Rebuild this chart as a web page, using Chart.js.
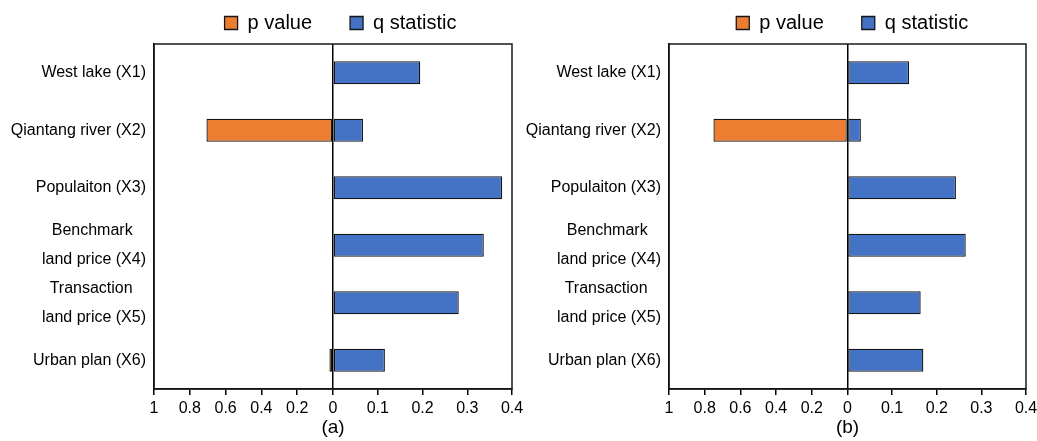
<!DOCTYPE html>
<html><head><meta charset="utf-8">
<script src="https://cdn.jsdelivr.net/npm/chart.js@4/dist/chart.umd.min.js"></script>
<style>
html,body{margin:0;padding:0;background:#fff;}
#wrap{position:relative;width:1037px;height:441px;overflow:hidden;background:#fff;}
.panel{position:absolute;top:0;height:441px;}
#pa{left:0;width:540px;}
#pb{left:520px;width:517px;}
</style></head><body>
<div id="wrap"><div class="panel" id="pa"><canvas id="ca"></canvas></div><div class="panel" id="pb"><canvas id="cb"></canvas></div></div>
<script>
const categories = ['West lake (X1)', 'Qiantang river (X2)', 'Populaiton (X3)', ['Benchmark   ', 'land price (X4)'], ['Transaction   ', 'land price (X5)'], 'Urban plan (X6)'];
const seriesNames = ['p value', 'q statistic'];
const pValuesA = [0, 0.707, 0, 0, 0, 0.02];
const qValuesA = [0.195, 0.067, 0.378, 0.337, 0.281, 0.116];
const pValuesB = [0, 0.751, 0, 0, 0, 0];
const qValuesB = [0.138, 0.030, 0.243, 0.265, 0.164, 0.170];
const pTickLabels = [1, 0.8, 0.6, 0.4, 0.2, 0];
const qTickLabels = [0.1, 0.2, 0.3, 0.4];
const panelTitles = ['(a)', '(b)'];

const SCALE = pTickLabels[0] / qTickLabels[qTickLabels.length - 1];
Chart.defaults.font.family = "'Liberation Sans', Arial, sans-serif";
Chart.defaults.color = '#000';

const framePlugin = {
  id: 'frame',
  afterLayout(chart, args, opts) {
    const lg = chart.legend, ca = chart.chartArea;
    if (lg) {
      const c = (ca.left + ca.right) / 2 + (opts.legendShift || 0);
      const half = (lg.right - lg.left) / 2;
      lg.left = c - half; lg.right = c + half;
      const pad = lg.options.labels.padding;
      lg.top = 13 - pad; lg.bottom = ca.top;
    }
  },
  afterDatasetsDraw(chart) {
    const {ctx, chartArea: a} = chart;
    ctx.save();
    ctx.strokeStyle = '#1a1a1a';
    ctx.lineWidth = 1.5;
    ctx.strokeRect(a.left, a.top, a.right - a.left, a.bottom - a.top);
    ctx.restore();
  }
};

function fmt(v) { return String(+v.toFixed(3)); }

function makePanel(id, pVals, qVals, title, yWidth, padRight, legendShift) {
  return new Chart(document.getElementById(id), {
    type: 'bar',
    plugins: [framePlugin],
    data: {
      labels: categories,
      datasets: [
        { label: seriesNames[0], data: pVals.map(v => -v), backgroundColor: '#ED7D31', borderColor: '#151515', borderWidth: 1.3, borderSkipped: false, inflateAmount: 0 },
        { label: seriesNames[1], data: qVals.map(v => v * SCALE), backgroundColor: '#4472C4', borderColor: '#151515', borderWidth: 1.3, borderSkipped: false, inflateAmount: 0 }
      ]
    },
    options: {
      indexAxis: 'y',
      responsive: true,
      maintainAspectRatio: false,
      animation: false,
      layout: { padding: { left: 0, right: padRight, top: 0, bottom: 0 } },
      datasets: { bar: { barPercentage: 0.4, categoryPercentage: 1 } },
      plugins: {
        frame: { legendShift: legendShift },
        legend: { position: 'top', maxHeight: 44, labels: { boxWidth: 13, boxHeight: 13, padding: 38, color: '#000', font: { size: 20 } } },
        tooltip: { enabled: false }
      },
      scales: {
        x: {
          type: 'linear', stacked: true,
          min: -pTickLabels[0], max: pTickLabels[0],
          afterBuildTicks: s => {
            s.ticks = pTickLabels.map(v => ({ value: -v })).concat(qTickLabels.map(v => ({ value: v * SCALE })));
          },
          afterFit: s => { s.height = 52; s.paddingLeft = 0; s.paddingRight = 0; },
          grid: {
            display: true, drawOnChartArea: true, drawTicks: true, tickLength: 6,
            color: c => (c.tick && c.tick.value === 0) ? '#000' : 'rgba(0,0,0,0)',
            lineWidth: 1.5, tickColor: '#000', tickWidth: 1.5
          },
          border: { display: true, color: '#000', width: 1.5 },
          ticks: {
            autoSkip: false, maxRotation: 0, minRotation: 0, padding: 4, color: '#000', font: { size: 16 },
            callback: v => v <= 0 ? fmt(Math.abs(v)) : fmt(v / SCALE)
          },
          title: { display: true, text: title, color: '#000', font: { size: 19 }, padding: { top: 0, bottom: 2 } }
        },
        y: {
          type: 'category', stacked: true, offset: true,
          afterFit: s => { s.width = yWidth; },
          grid: { display: false, drawTicks: false },
          border: { display: true, color: '#000', width: 1.5 },
          ticks: { autoSkip: false, padding: 8, color: '#000', font: { size: 16, lineHeight: 1.81 } }
        }
      }
    }
  });
}

makePanel('ca', pValuesA, qValuesA, panelTitles[0], 154, 28, 7.5);
makePanel('cb', pValuesB, qValuesB, panelTitles[1], 149, 11, 4.7);
</script>
</body></html>
